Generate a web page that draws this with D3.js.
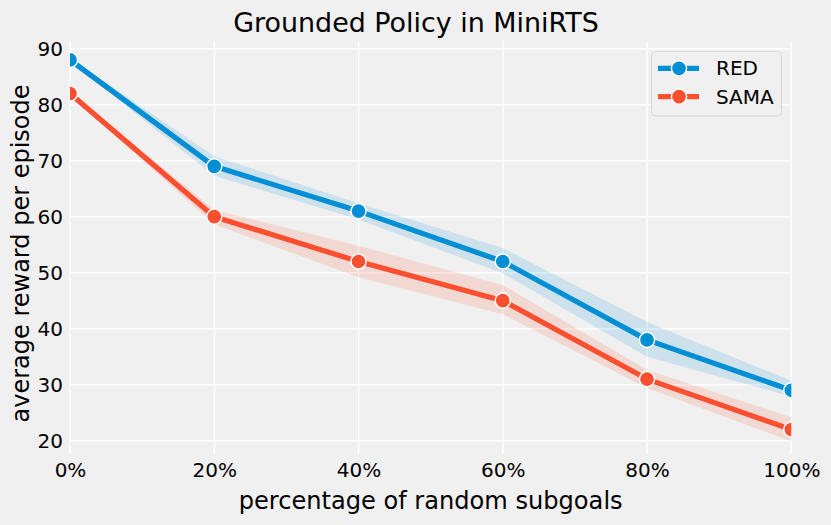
<!DOCTYPE html>
<html>
<head>
<meta charset="utf-8">
<script src="https://cdn.jsdelivr.net/npm/d3@7"></script>
<style>
html,body{margin:0;padding:0;background:#f0f0f0;}
svg{display:block;font-family:"DejaVu Sans",sans-serif;}
</style>
</head>
<body>
<svg id="chart" width="831" height="525"></svg>
<script>
const xValues = [0, 20, 40, 60, 80, 100];
const xTickLabels = ["0%", "20%", "40%", "60%", "80%", "100%"];
const yTicks = [20, 30, 40, 50, 60, 70, 80, 90];
const seriesNames = ["RED", "SAMA"];
const redMean = [88, 69, 61, 52, 38, 29];
const redLow  = [87.7, 67.3, 59.5, 49.9, 35.0, 27.9];
const redHigh = [88.3, 70.8, 62.4, 54.4, 41.2, 30.7];
const samaMean = [82, 60, 52, 45, 31, 22];
const samaLow  = [81.7, 58.6, 49.2, 42.6, 29.4, 19.9];
const samaHigh = [82.3, 61.2, 54.8, 47.8, 32.6, 24.2];
const colors = ["#008fd5", "#fc4f30"];

const series = [
  {name: seriesNames[0], mean: redMean, low: redLow, high: redHigh, color: colors[0]},
  {name: seriesNames[1], mean: samaMean, low: samaLow, high: samaHigh, color: colors[1]}
];

const svg = d3.select("#chart");
const L = 70, R = 791.3, T = 41, B = 454;
const x = d3.scaleLinear().domain([0, 100]).range([L, R]);
const y = d3.scaleLinear().domain([17.62, 91.38]).range([B, T]);

svg.append("rect").attr("width", 831).attr("height", 525).attr("fill", "#f0f0f0");

svg.append("defs").append("clipPath").attr("id", "clip")
  .append("rect").attr("x", L).attr("y", T).attr("width", R - L).attr("height", B - T);

// grid
const grid = svg.append("g");
grid.selectAll("line.v").data(xValues).join("line")
  .attr("x1", d => x(d)).attr("x2", d => x(d)).attr("y1", T).attr("y2", B)
  .attr("stroke", "#ffffff").attr("stroke-width", 1.5);
grid.selectAll("line.h").data(yTicks).join("line")
  .attr("x1", L).attr("x2", R).attr("y1", d => y(d)).attr("y2", d => y(d))
  .attr("stroke", "#ffffff").attr("stroke-width", 1.5);

// axes (labels only)
const xAxis = svg.append("g").attr("transform", `translate(0,${B})`)
  .call(d3.axisBottom(x).tickValues(xValues).tickFormat((d, i) => xTickLabels[i]).tickSize(0).tickPadding(9));
const yAxis = svg.append("g").attr("transform", `translate(${L},0)`)
  .call(d3.axisLeft(y).tickValues(yTicks).tickSize(0).tickPadding(7));
[xAxis, yAxis].forEach(a => {
  a.select(".domain").remove();
  a.selectAll("text").attr("font-size", "20px").attr("fill", "#000")
    .attr("font-family", "DejaVu Sans, sans-serif");
});

const plot = svg.append("g").attr("clip-path", "url(#clip)");

series.forEach(s => {
  const area = d3.area()
    .x((d, i) => x(xValues[i]))
    .y0((d, i) => y(s.low[i]))
    .y1((d, i) => y(s.high[i]));
  plot.append("path").datum(s.mean).attr("d", area)
    .attr("fill", s.color).attr("fill-opacity", 0.15);
});
series.forEach(s => {
  const line = d3.line().x((d, i) => x(xValues[i])).y(d => y(d));
  plot.append("path").datum(s.mean).attr("d", line)
    .attr("fill", "none").attr("stroke", s.color).attr("stroke-width", 5.2)
    .attr("stroke-linejoin", "round");
  plot.selectAll(null).data(s.mean).join("circle")
    .attr("cx", (d, i) => x(xValues[i])).attr("cy", d => y(d)).attr("r", 7.6)
    .attr("fill", s.color).attr("stroke", "#ffffff").attr("stroke-width", 1.5);
});

// title
svg.append("text").attr("x", 416).attr("y", 32).attr("text-anchor", "middle")
  .attr("font-size", "26.9px").attr("fill", "#000").text("Grounded Policy in MiniRTS");
// axis labels
svg.append("text").attr("x", (L + R) / 2).attr("y", 509).attr("text-anchor", "middle")
  .attr("font-size", "24.1px").attr("fill", "#000").text("percentage of random subgoals");
svg.append("text").attr("transform", `translate(29,${(T + B) / 2 + 6}) rotate(-90)`)
  .attr("text-anchor", "middle").attr("font-size", "24px").attr("fill", "#000")
  .text("average reward per episode");

// legend
const lg = svg.append("g");
lg.append("rect").attr("x", 651.5).attr("y", 51.5).attr("width", 130).attr("height", 64.5)
  .attr("rx", 4).attr("fill", "#f0f0f0").attr("stroke", "#d6d6d6").attr("stroke-width", 1);
series.forEach((s, i) => {
  const cy = 68.3 + i * 28.4;
  lg.append("line").attr("x1", 658).attr("x2", 699).attr("y1", cy).attr("y2", cy)
    .attr("stroke", s.color).attr("stroke-width", 5.2);
  lg.append("circle").attr("cx", 679).attr("cy", cy).attr("r", 7.6)
    .attr("fill", s.color).attr("stroke", "#fff").attr("stroke-width", 1.5);
  lg.append("text").attr("x", 716).attr("y", cy + 7).attr("font-size", "20px")
    .attr("fill", "#000").text(s.name);
});
</script>
</body>
</html>
